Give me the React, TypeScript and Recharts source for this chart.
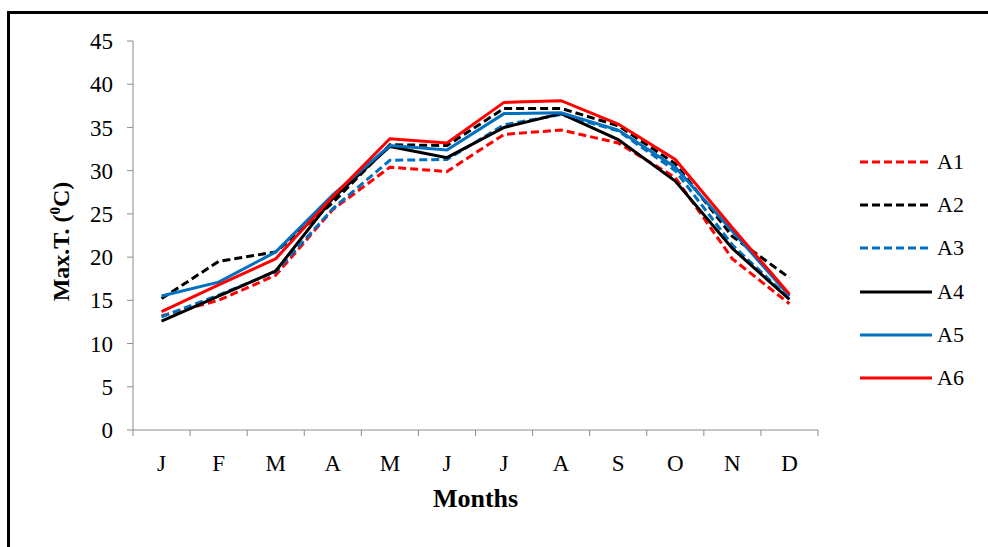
import React from 'react';
import { LineChart, Line, XAxis, YAxis, Legend, Label } from 'recharts';

const months = ['J', 'F', 'M', 'A', 'M', 'J', 'J', 'A', 'S', 'O', 'N', 'D'];

const a1 = [13.2, 15.0, 17.9, 25.5, 30.4, 29.9, 34.2, 34.7, 33.2, 29.2, 19.8, 14.6];
const a2 = [15.2, 19.5, 20.6, 26.3, 33.0, 32.9, 37.2, 37.2, 35.2, 30.8, 22.4, 17.6];
const a3 = [13.1, 15.6, 18.3, 25.6, 31.2, 31.3, 35.3, 36.5, 34.6, 30.0, 21.4, 15.2];
const a4 = [12.6, 15.5, 18.4, 26.8, 32.8, 31.5, 35.0, 36.6, 33.6, 28.8, 21.0, 15.1];
const a5 = [15.5, 17.1, 20.6, 27.2, 32.9, 32.4, 36.6, 36.7, 34.7, 30.4, 23.0, 15.5];
const a6 = [13.7, 16.8, 19.8, 27.0, 33.7, 33.2, 37.9, 38.1, 35.4, 31.3, 23.4, 15.7];

const yTicks = [0, 5, 10, 15, 20, 25, 30, 35, 40, 45];

const series = [
  { key: 'A1', values: a1, color: '#ff0000', dash: '8 4' },
  { key: 'A2', values: a2, color: '#000000', dash: '8 4' },
  { key: 'A3', values: a3, color: '#0070c0', dash: '8 4' },
  { key: 'A4', values: a4, color: '#000000', dash: undefined },
  { key: 'A5', values: a5, color: '#0070c0', dash: undefined },
  { key: 'A6', values: a6, color: '#ff0000', dash: undefined },
];

// months sit in the middle of each band, ticks on the band edges
const rows = months.map((m, i) => {
  const row: Record<string, number | string> = { month: m, pos: i + 0.5 };
  series.forEach((s) => {
    row[s.key] = s.values[i];
  });
  return row;
});

const edgeTicks = months.map((_, i) => i).concat(months.length);
const midTicks = months.map((_, i) => i + 0.5);

const serif = '"Liberation Serif", "Times New Roman", serif';
const axisGray = '#8c8c8c';
const tickStyle = { fill: '#000', fontSize: 23, fontFamily: serif };

function SeriesLegend() {
  return (
    <div style={{ fontFamily: serif, fontSize: 22, color: '#000' }}>
      {series.map((s) => (
        <div key={s.key} style={{ display: 'flex', alignItems: 'center', height: 43.3 }}>
          <svg width={72} height={6}>
            <line x1={0} x2={72} y1={3} y2={3} stroke={s.color} strokeWidth={3} strokeDasharray={s.dash} />
          </svg>
          <span style={{ marginLeft: 5 }}>{s.key}</span>
        </div>
      ))}
    </div>
  );
}

function YTitle(props: any) {
  const vb = props.viewBox;
  const cx = vb.x + 59;
  const cy = vb.y + vb.height / 2 + 6;
  return (
    <text
      x={cx}
      y={cy}
      transform={`rotate(-90 ${cx} ${cy})`}
      textAnchor="middle"
      fontFamily={serif}
      fontSize={24}
      fontWeight="bold"
      fill="#000"
    >
      <tspan>Max.T. (</tspan>
      <tspan fontSize={15} dy={-9}>0</tspan>
      <tspan dy={9}>C)</tspan>
    </text>
  );
}

export default function App() {
  return (
    <div
      style={{
        position: 'fixed',
        left: 7,
        top: 11,
        width: 990,
        height: 560,
        borderLeft: '3px solid #000',
        borderTop: '3px solid #000',
        background: '#fff',
      }}
    >
      <LineChart width={960} height={520} data={rows} margin={{ top: 27, right: 152, bottom: 50, left: 0 }}>
        <YAxis
          type="number"
          domain={[0, 45]}
          ticks={yTicks}
          width={123}
          stroke={axisGray}
          tickSize={6}
          tickMargin={14}
          tick={tickStyle}
          interval={0}
        >
          <Label content={YTitle} />
        </YAxis>
        <XAxis
          type="number"
          dataKey="pos"
          domain={[0, months.length]}
          ticks={edgeTicks}
          tickFormatter={() => ''}
          height={8}
          tickSize={6}
          stroke={axisGray}
          interval={0}
        />
        <XAxis
          xAxisId="labels"
          type="number"
          dataKey="pos"
          domain={[0, months.length]}
          ticks={midTicks}
          tickFormatter={(v: number) => months[Math.floor(v)]}
          height={46}
          axisLine={false}
          tickLine={false}
          tickSize={6}
          tickMargin={11}
          tick={tickStyle}
          interval={0}
        >
          <Label
            value="Months"
            position="bottom"
            offset={5}
            style={{ fontFamily: serif, fontSize: 26, fontWeight: 'bold', fill: '#000' }}
          />
        </XAxis>
        <Legend
          layout="horizontal"
          align="center"
          verticalAlign="middle"
          content={SeriesLegend}
          wrapperStyle={{ left: 850, top: 126, width: 110 }}
        />
        {series.map((s) => (
          <Line
            key={s.key}
            type="linear"
            dataKey={s.key}
            stroke={s.color}
            strokeWidth={3}
            strokeDasharray={s.dash}
            dot={false}
            isAnimationActive={false}
          />
        ))}
      </LineChart>
    </div>
  );
}
